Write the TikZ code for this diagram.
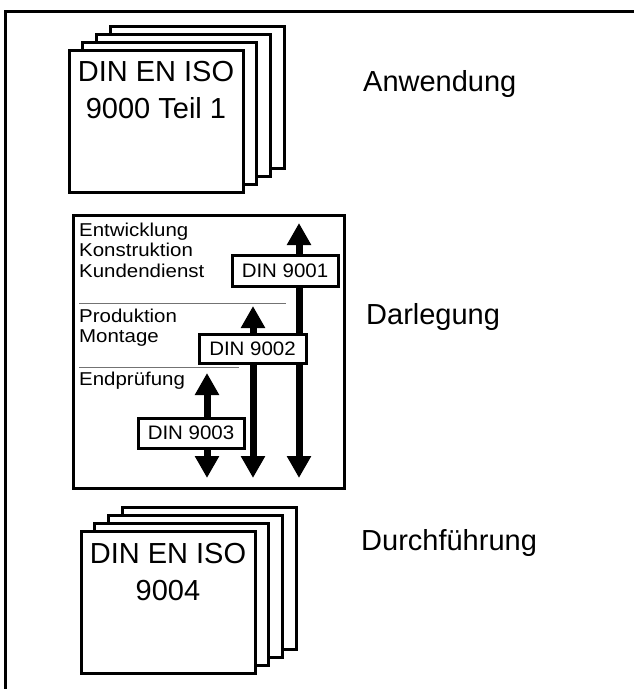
\documentclass[tikz,border=0pt]{standalone}
\usepackage{fontspec}
\setmainfont{Liberation Sans}
\newfontfamily\narrowish[FakeStretch=1.1]{Liberation Sans}
\newfontfamily\labelish[FakeStretch=1.05]{Liberation Sans}
\usetikzlibrary{
    positioning,
    arrows.meta
}

\begin{document}
\begin{tikzpicture}[
    x=1pt, y=-1pt,
    sheet/.style={rectangle, draw, line width=3pt, fill=white, minimum width=174pt, minimum height=142pt, inner sep=0pt},
    sheettext/.style={align=center, inner sep=0pt, font=\fontsize{29}{37}\selectfont},
    level/.style={anchor=base west, inner sep=0pt, font=\fontsize{29}{35}\selectfont},
    area/.style={align=left, anchor=north west, inner sep=0pt, font=\narrowish\fontsize{18.6}{20.5}\selectfont},
    norm/.style={rectangle, draw, line width=3pt, fill=white, minimum width=106pt, minimum height=31pt, inner sep=0pt, font=\labelish\fontsize{19.5}{20}\selectfont},
    divider/.style={draw=black!55, line width=1pt},
    arrow/.style={line width=7pt, {Triangle[width=23pt,length=22pt]}-{Triangle[width=23pt,length=22pt]}}
]
\useasboundingbox (0,0) rectangle (634,689);
\draw[line width=3pt] (5,689) -- (5,11) -- (634,11);

\foreach \i in {3,2,1}
    \node[sheet] (isoA\i) at ({156+13.7*\i},{121-8*\i}) {};
\node[sheet] (isoA) at (156,121) {};
\node[sheettext, below=12.6pt of isoA.north] (isoAtext) {DIN EN ISO\\9000 Teil 1};
\node[level] (anwendung) at (363,91) {Anwendung};

\node[rectangle, draw, line width=3pt, minimum width=271pt, minimum height=273pt] (darl) at (208.5,351.5) {};
\node[area] (entw) at (79,222.5) {Entwicklung\\Konstruktion\\Kundendienst};
\node[area] (prod) at (79,308.5) {Produktion\\Montage};
\node[area] (endp) at (79,371.5) {Endprüfung};
\draw[divider] (79,303) -- (286,303);
\draw[divider] (79,367) -- (239,367);

\coordinate (a1top) at (299,223);
\coordinate (a1bot) at (299,478);
\coordinate (a2top) at (253,306);
\coordinate (a2bot) at (253,478);
\coordinate (a3top) at (207,373);
\coordinate (a3bot) at (207,478);
\draw[arrow] (a1bot) -- (a1top);
\draw[arrow] (a2bot) -- (a2top);
\draw[arrow] (a3bot) -- (a3top);
\node[norm] (din9001) at (285,271) {DIN 9001};
\node[norm, minimum width=107pt, minimum height=29pt] (din9002) at (252.5,348.5) {DIN 9002};
\node[norm, minimum height=30pt] (din9003) at (191,433) {DIN 9003};
\node[level] (darlegung) at (366,324) {Darlegung};

\foreach \i in {3,2,1}
    \node[sheet] (isoB\i) at ({168+13.7*\i},{602-8*\i}) {};
\node[sheet] (isoB) at (168,602) {};
\node[sheettext, below=13.6pt of isoB.north] (isoBtext) {DIN EN ISO\\9004};
\node[level] (durchf) at (361,550) {Durchführung};
\end{tikzpicture}
\end{document}
